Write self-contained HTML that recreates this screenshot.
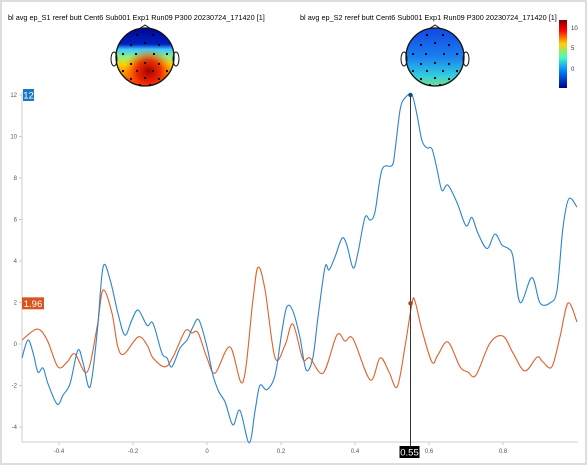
<!DOCTYPE html>
<html><head><meta charset="utf-8">
<style>
body{margin:0;width:587px;height:465px;overflow:hidden;background:#fff;font-family:"Liberation Sans",sans-serif;}
#frame{position:absolute;left:0;top:0;width:583px;height:461px;border:2px solid #ddd;}
</style></head>
<body>
<div id="frame"></div>
<svg id="chart" width="587" height="465" style="position:absolute;left:0;top:0">
<defs>
<linearGradient id="g1" x1="0" y1="0" x2="0" y2="1">
<stop offset="0" stop-color="#00008a"/><stop offset="0.3" stop-color="#0020c0"/><stop offset="0.38" stop-color="#40c8ff"/><stop offset="0.5" stop-color="#90f080"/><stop offset="0.62" stop-color="#ffd000"/><stop offset="1" stop-color="#ff2000"/></linearGradient>
<radialGradient id="r1" cx="0.55" cy="0.72" r="0.35"><stop offset="0" stop-color="#a00000"/><stop offset="0.5" stop-color="#e81000" stop-opacity="0.8"/><stop offset="1" stop-color="#ff6000" stop-opacity="0"/></radialGradient>
<linearGradient id="g2" x1="0" y1="0" x2="0" y2="1">
<stop offset="0" stop-color="#1040e0"/><stop offset="0.5" stop-color="#1a80f0"/><stop offset="0.8" stop-color="#30d0e0"/><stop offset="1" stop-color="#90e070"/></linearGradient>
<linearGradient id="cb" x1="0" y1="0" x2="0" y2="1">
<stop offset="0" stop-color="#800000"/><stop offset="0.15" stop-color="#ff0000"/><stop offset="0.35" stop-color="#ffd000"/><stop offset="0.55" stop-color="#40ffc0"/><stop offset="0.75" stop-color="#0080ff"/><stop offset="1" stop-color="#000090"/></linearGradient>
<clipPath id="h1"><circle cx="145" cy="57" r="29"/></clipPath>
<clipPath id="h2"><circle cx="435" cy="57" r="29"/></clipPath>
</defs>
<text x="8" y="20" font-size="7.3" fill="#000">bl avg ep_S1 reref butt Cent6 Sub001 Exp1 Run09 P300 20230724_171420 [1]</text>
<text x="300" y="20" font-size="7.3" fill="#000">bl avg ep_S2 reref butt Cent6 Sub001 Exp1 Run09 P300 20230724_171420 [1]</text>
<g>
<rect x="110" y="25" width="70" height="64" fill="url(#g1)" clip-path="url(#h1)"/>
<rect x="110" y="25" width="70" height="64" fill="url(#r1)" clip-path="url(#h1)"/>
<circle cx="145" cy="57" r="29" fill="none" stroke="#111" stroke-width="1.3"/>
<path d="M139 29 L145 25 L151 29" fill="none" stroke="#111"/>
<ellipse cx="114" cy="59" rx="3" ry="7" fill="none" stroke="#111"/><ellipse cx="176" cy="59" rx="3" ry="7" fill="none" stroke="#111"/>
</g>
<g>
<rect x="400" y="25" width="70" height="64" fill="url(#g2)" clip-path="url(#h2)"/>
<circle cx="435" cy="57" r="29" fill="none" stroke="#111" stroke-width="1.3"/>
<path d="M429 29 L435 25 L441 29" fill="none" stroke="#111"/>
<ellipse cx="404" cy="59" rx="3" ry="7" fill="none" stroke="#111"/><ellipse cx="466" cy="59" rx="3" ry="7" fill="none" stroke="#111"/>
</g>
<g id="dots"></g>
<g>
<rect x="559" y="20" width="8" height="68" fill="url(#cb)"/>
<text x="571" y="30" font-size="6" fill="#333">10</text>
<text x="571" y="50" font-size="6" fill="#333">5</text>
<text x="571" y="71" font-size="6" fill="#333">0</text>
</g>
<g id="axes"></g>
<g id="series"></g>
</svg>
<script>
const blueT=[-0.5,-0.484,-0.47,-0.457,-0.443,-0.43,-0.405,-0.389,-0.37,-0.349,-0.335,-0.316,-0.297,-0.281,-0.262,-0.241,-0.222,-0.203,-0.186,-0.162,-0.146,-0.122,-0.108,-0.095,-0.073,-0.054,-0.038,-0.022,0,0.016,0.032,0.049,0.07,0.089,0.114,0.13,0.143,0.162,0.184,0.203,0.216,0.232,0.251,0.268,0.286,0.3,0.319,0.33,0.346,0.365,0.378,0.395,0.408,0.427,0.441,0.454,0.473,0.5,0.508,0.522,0.535,0.554,0.568,0.581,0.595,0.608,0.622,0.635,0.651,0.676,0.7,0.716,0.732,0.757,0.778,0.797,0.814,0.827,0.846,0.878,0.9,0.927,0.946,0.962,0.978,1.0];
const blueV=[-0.67,0.19,-0.43,-1.35,-1.16,-1.9,-2.9,-2.46,-1.9,-0.3,-0.9,-2.07,0.53,3.7,3.1,1.5,0.43,1.16,1.64,0.9,1.0,-0.43,-0.67,-1.1,-0.2,0.19,0.82,1.16,-0.14,-1.5,-2.3,-2.8,-3.9,-3.2,-4.77,-3.2,-2.0,-2.2,-1.5,0.67,1.8,1.6,0.34,-1.25,-0.67,1.3,3.7,3.57,4.2,5.1,4.77,3.66,4.4,6.1,5.97,6.36,8.4,8.6,9.3,11.3,11.86,12.0,11.0,9.8,9.45,9.4,8.4,7.4,7.66,6.8,5.7,6.1,5.35,4.6,5.3,4.77,4.6,4.2,2.0,3.2,1.98,1.98,2.6,5.6,7.0,6.6];
const orangeT=[-0.5,-0.459,-0.432,-0.403,-0.378,-0.357,-0.324,-0.297,-0.281,-0.257,-0.241,-0.224,-0.186,-0.162,-0.146,-0.114,-0.092,-0.059,-0.041,-0.024,0,0.022,0.062,0.097,0.124,0.138,0.157,0.184,0.211,0.232,0.259,0.278,0.314,0.351,0.373,0.395,0.441,0.468,0.492,0.514,0.535,0.554,0.562,0.581,0.608,0.624,0.651,0.684,0.705,0.727,0.765,0.8,0.827,0.859,0.892,0.908,0.932,0.954,0.976,1.0];
const orangeV=[0.19,0.72,0.19,-1.1,-0.87,-0.48,-1.35,0.82,2.6,1.5,-0.14,-0.48,0.34,-0.05,-0.67,-1.1,-0.63,0.63,0.53,0.53,-0.67,-1.4,-0.14,-1.83,2.1,3.7,2.6,-0.67,-0.05,0.96,-0.72,-0.67,-1.4,0.43,0.14,0.24,-1.73,-0.67,-1.35,-2.07,-0.14,1.96,2.07,0.67,-0.87,-0.53,0.1,-1.1,-1.35,-1.5,0.05,0.38,-0.43,-1.3,-0.63,-0.87,-1.1,0.34,1.98,1.06];
const xTicks=[-0.4,-0.2,0,0.2,0.4,0.6,0.8];
const yTicks=[-4,-2,0,2,4,6,8,10,12];
const cursorT=0.55, blueCursor=12, orangeCursor=1.96;
const elec1=[[-8,-22],[8,-22],[-14,-12],[0,-14],[14,-12],[-22,-3],[-9,-3],[9,-3],[22,-3],[-14,7],[0,6],[14,7],[-22,14],[-8,14],[8,14],[22,14],[-14,22],[0,21],[14,22],[-5,28],[5,28]];

const X=t=>207+t*370, Y=v=>344-v*20.75;
const NS="http://www.w3.org/2000/svg";
function mk(tag,attrs,parent){const e=document.createElementNS(NS,tag);for(const k in attrs)e.setAttribute(k,attrs[k]);parent.appendChild(e);return e;}
const dots=document.getElementById('dots');
[145,435].forEach(cx=>elec1.forEach(p=>{const c=mk('circle',{cx:cx+p[0],cy:57+p[1],r:1.1,fill:'#000'},dots);

}));
const ax=document.getElementById('axes');
const xl=mk('line',{x1:22,y1:442,x2:578,y2:442,stroke:'#ccc'},ax);


const yl=mk('line',{x1:22,y1:92,x2:22,y2:442,stroke:'#ccc'},ax);


xTicks.forEach(t=>{mk('line',{x1:X(t),y1:442,x2:X(t),y2:445,stroke:'#ccc'},ax);
const tx=mk('text',{x:X(t),y:453,'font-size':6,fill:'#555','text-anchor':'middle'},ax);tx.textContent=String(t);

});
yTicks.forEach(v=>{mk('line',{x1:19,y1:Y(v),x2:22,y2:Y(v),stroke:'#ccc'},ax);
const tx=mk('text',{x:17,y:Y(v)+2,'font-size':6,fill:'#555','text-anchor':'end'},ax);tx.textContent=String(v);

});
function path(T,V){const p=T.map((t,i)=>[X(t),Y(V[i])]);let d='M'+p[0][0]+' '+p[0][1];
for(let i=0;i<p.length-1;i++){const p0=p[Math.max(0,i-1)],p1=p[i],p2=p[i+1],p3=p[Math.min(p.length-1,i+2)];
d+=' C'+(p1[0]+(p2[0]-p0[0])/6)+' '+(p1[1]+(p2[1]-p0[1])/6)+' '+(p2[0]-(p3[0]-p1[0])/6)+' '+(p2[1]-(p3[1]-p1[1])/6)+' '+p2[0]+' '+p2[1];}return d;}
const s=document.getElementById('series');
const po=mk('path',{d:path(orangeT,orangeV),fill:'none',stroke:'#e0602c','stroke-width':1.1},s);


const pb=mk('path',{d:path(blueT,blueV),fill:'none',stroke:'#2b84cc','stroke-width':1.1},s);


const cl=mk('line',{x1:X(cursorT),y1:Y(blueCursor),x2:X(cursorT),y2:447,stroke:'#333','stroke-width':1},s);


const d1=mk('circle',{cx:X(cursorT),cy:Y(blueCursor),r:2.2,fill:'#0d4a80'},s);


const d2=mk('circle',{cx:X(cursorT),cy:Y(orangeCursor),r:2.2,fill:'#a0401a'},s);


function label(x,y,w,txt,bg,name){const g=mk('g',{},s);mk('rect',{x:x,y:y,width:w,height:12,fill:bg},g);
const t=mk('text',{x:x+w/2,y:y+9.5,'font-size':9.5,fill:'#fff','text-anchor':'middle'},g);t.textContent=txt;

}
label(23,Y(blueCursor)-6,11,String(blueCursor),'#1a78c2','blue-value-label');
label(22,Y(orangeCursor)-6,22,String(orangeCursor),'#d9541e','orange-value-label');
label(X(cursorT)-11,446,20,String(cursorT),'#000','cursor-x-label');
</script>
</body></html>
